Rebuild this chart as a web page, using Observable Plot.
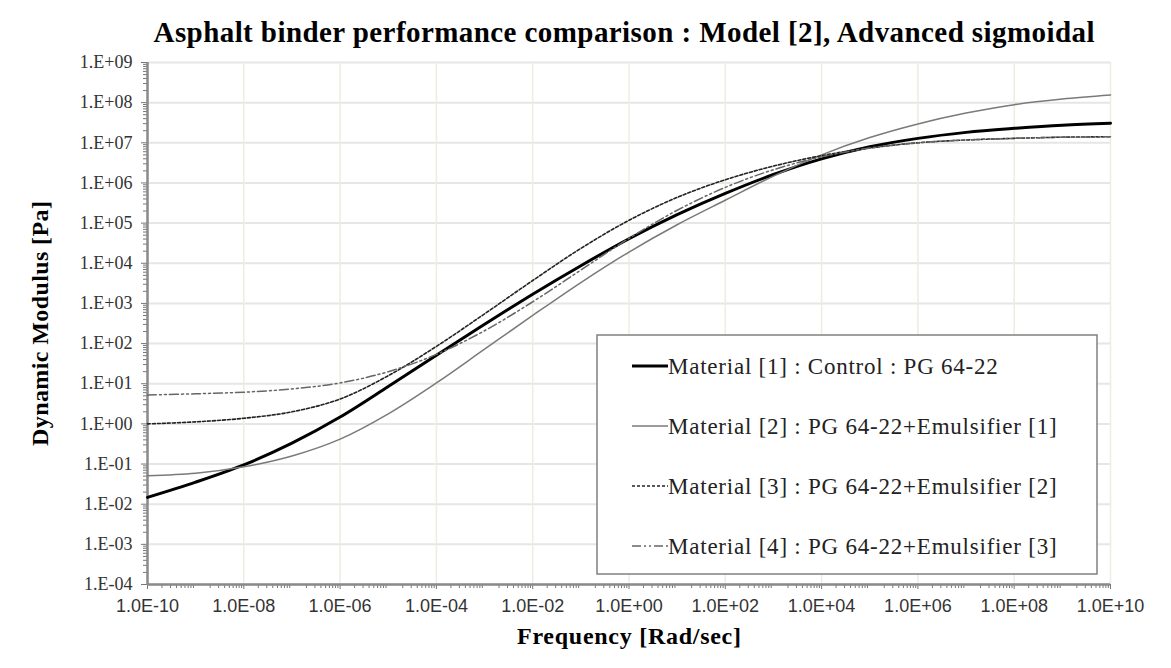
<!DOCTYPE html>
<html><head><meta charset="utf-8">
<script src="https://cdn.jsdelivr.net/npm/d3@7"></script>
<script src="https://cdn.jsdelivr.net/npm/@observablehq/plot@0.6"></script>
<style>body{margin:0;background:#fff}</style>
</head><body><div id="chart"></div>
<script>
const chartTitle = "Asphalt binder performance comparison : Model [2], Advanced sigmoidal";
const xTitle = "Frequency [Rad/sec]";
const yTitle = "Dynamic Modulus [Pa]";

// log10 of frequency [rad/s]
const freqExp = [-10,-9,-8,-7,-6,-5,-4,-3,-2,-1,0,1,2,3,4,5,6,7,8,9,10];
// log10 of dynamic modulus [Pa]
const material1 = [-1.83,-1.45,-1.02,-0.48,0.17,0.93,1.71,2.48,3.23,3.94,4.61,5.21,5.74,6.21,6.60,6.90,7.11,7.26,7.36,7.44,7.49];
const material2 = [-1.29,-1.23,-1.07,-0.80,-0.38,0.25,1.02,1.86,2.70,3.52,4.28,4.96,5.57,6.17,6.70,7.13,7.47,7.74,7.95,8.09,8.19];
const material3 = [0.00,0.05,0.14,0.30,0.62,1.20,1.93,2.74,3.57,4.37,5.07,5.64,6.08,6.42,6.68,6.87,7.00,7.07,7.11,7.14,7.15];
const material4 = [0.72,0.75,0.79,0.87,1.02,1.30,1.73,2.32,3.04,3.83,4.62,5.32,5.89,6.33,6.65,6.87,7.00,7.07,7.11,7.14,7.15];
const seriesNames = [
  "Material [1] : Control : PG 64-22",
  "Material [2] : PG 64-22+Emulsifier [1]",
  "Material [3] : PG 64-22+Emulsifier [2]",
  "Material [4] : PG 64-22+Emulsifier [3]"
];
const seriesValues = [material1, material2, material3, material4];
const yTickExp = [-4,-3,-2,-1,0,1,2,3,4,5,6,7,8,9];
const xTickExp = [-10,-8,-6,-4,-2,0,2,4,6,8,10];

const styles = [
  {stroke:"#000", strokeWidth:3, dash:null},
  {stroke:"#7a7a7a", strokeWidth:1.5, dash:null},
  {stroke:"#222", strokeWidth:1.6, dash:"3,2"},
  {stroke:"#666", strokeWidth:1.5, dash:"9,3,2,3,2,3"}
];

const data = [];
seriesNames.forEach((name, i) => freqExp.forEach((e, j) => data.push({series: name, x: 10 ** e, y: 10 ** seriesValues[i][j]})));

const yMajor = yTickExp.map(e => 10 ** e);
const yMinor = [];
for (let e = yTickExp[0]; e < yTickExp[yTickExp.length-1]; e++) for (let k = 2; k <= 9; k++) yMinor.push(k * 10 ** e);
const xMajor = xTickExp.map(e => 10 ** e);
const xMinor = [];
for (let e = xTickExp[0]; e < xTickExp[xTickExp.length-1]; e++) for (let k = 2; k <= 9; k++) xMinor.push(k * 10 ** e);

const pad2 = n => String(Math.abs(n)).padStart(2, "0");
const yFmt = v => { const e = Math.round(Math.log10(v)); return `1.E${e < 0 ? "-" : "+"}${pad2(e)}`; };
const xFmt = v => { const e = Math.round(Math.log10(v)); return `1.0E${e < 0 ? "-" : "+"}${pad2(e)}`; };

const serif = "'Liberation Serif', 'Times New Roman', serif";
const sans = "'Liberation Sans', Arial, sans-serif";

const marks = [
  Plot.ruleY(yMajor, {stroke: "#e6e6e6", strokeWidth: 2}),
  Plot.ruleX(xMajor, {stroke: "#efece0", strokeWidth: 1.5}),
  Plot.axisY(yMinor, {tickSize: 4, tickFormat: () => "", stroke: "#777", label: null}),
  Plot.axisY(yMajor, {tickSize: 6, tickPadding: 9, tickFormat: yFmt, fontFamily: serif, fontSize: 18, fill: "#333", stroke: "#777", label: null}),
  Plot.axisX(xMinor, {tickSize: 4, tickFormat: () => "", stroke: "#777", label: null}),
  Plot.axisX(xMajor, {tickSize: 5, tickPadding: 10, tickFormat: xFmt, fontFamily: sans, fontSize: 18, fill: "#333", stroke: "#777", label: null}),
  Plot.ruleX([10 ** freqExp[0]], {stroke: "#8a8a8a", strokeWidth: 2.5}),
  Plot.ruleY([10 ** yTickExp[0]], {stroke: "#8a8a8a", strokeWidth: 2.5}),
  ...seriesNames.map((name, i) => Plot.line(data.filter(d => d.series === name), {
    x: "x", y: "y", stroke: styles[i].stroke, strokeWidth: styles[i].strokeWidth,
    strokeDasharray: styles[i].dash, curve: "catmull-rom"
  })),
  Plot.text([chartTitle], {frameAnchor: "top", lineAnchor: "middle", textAnchor: "middle", dy: -30, dx: -5, fontFamily: serif, fontWeight: "bold", fontSize: 29, fill: "#000", className: "ttl"}),
  Plot.text([xTitle], {frameAnchor: "bottom", lineAnchor: "middle", textAnchor: "middle", dy: 52, fontFamily: serif, fontWeight: "bold", fontSize: 24, fill: "#000", className: "xttl"}),
  Plot.text([yTitle], {frameAnchor: "left", lineAnchor: "middle", textAnchor: "middle", dx: -107, rotate: -90, fontFamily: serif, fontWeight: "bold", fontSize: 24, fill: "#000", className: "yttl"})
];

const chart = Plot.plot({
  width: 1171, height: 668,
  marginLeft: 147, marginRight: 61, marginTop: 62, marginBottom: 84,
  x: {type: "log", domain: [10 ** xTickExp[0], 10 ** xTickExp[xTickExp.length-1]]},
  y: {type: "log", domain: [10 ** yTickExp[0], 10 ** yTickExp[yTickExp.length-1]]},
  style: {background: "#fff"},
  marks
});
document.getElementById("chart").appendChild(chart);

const svg = d3.select(chart);
svg.selectAll(".ttl text").attr("textLength", 941).attr("lengthAdjust", "spacing");
svg.selectAll(".xttl text").attr("textLength", 224).attr("lengthAdjust", "spacing");
svg.selectAll(".yttl text").attr("textLength", 245).attr("lengthAdjust", "spacing");

// legend box
const lg = svg.append("g").attr("font-family", serif).attr("font-size", 23).attr("text-anchor", "start");
lg.append("rect").attr("x", 597).attr("y", 335).attr("width", 500).attr("height", 239)
  .attr("fill", "#fff").attr("stroke", "#808080").attr("stroke-width", 1.5);
seriesNames.forEach((name, i) => {
  const cy = 366 + i * 60;
  lg.append("line").attr("x1", 632).attr("x2", 668).attr("y1", cy).attr("y2", cy)
    .attr("stroke", styles[i].stroke).attr("stroke-width", styles[i].strokeWidth)
    .attr("stroke-dasharray", styles[i].dash);
  const t = lg.append("text").attr("x", 668).attr("y", cy).attr("dy", "0.35em").attr("fill", "#222").text(name);
  const w = t.node().getComputedTextLength();
  t.attr("textLength", w * 1.08).attr("lengthAdjust", "spacing");
});
</script>
</body></html>
